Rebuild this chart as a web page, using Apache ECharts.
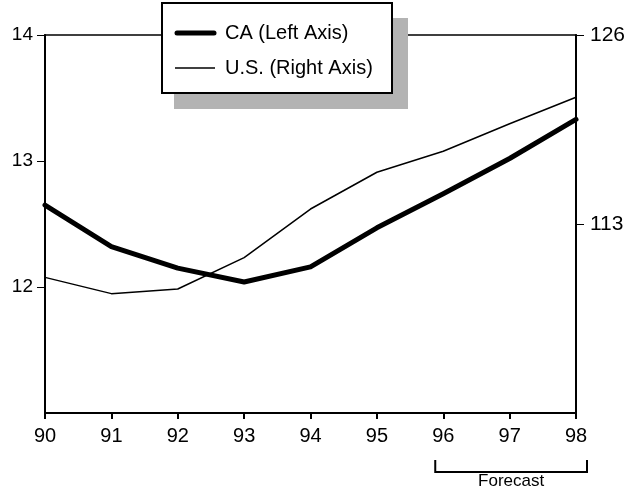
<!DOCTYPE html>
<html>
<head>
<meta charset="utf-8">
<script src="https://cdn.jsdelivr.net/npm/echarts@6/dist/echarts.min.js"></script>
<style>
  html, body { margin: 0; padding: 0; background: #fff; }
  #chart { width: 629px; height: 494px; }
</style>
</head>
<body>
<div id="chart"></div>
<script>
// Years on the horizontal axis (two-digit)
const years = ['90', '91', '92', '93', '94', '95', '96', '97', '98'];
// California (left axis)
const caValues = [12.65, 12.32, 12.15, 12.04, 12.16, 12.47, 12.74, 13.02, 13.33];
// United States (right axis)
const usValues = [109.33, 108.21, 108.53, 110.69, 114.03, 116.56, 118.0, 119.9, 121.72];
const seriesNames = ['CA (Left Axis)', 'U.S. (Right Axis)'];
const leftTicks = [12, 13, 14];
const rightTicks = [113, 126];
const forecastYears = ['96', '98'];
const forecastLabel = 'Forecast';

const FONT = '"Liberation Sans", Arial, Helvetica, sans-serif';
const chart = echarts.init(document.getElementById('chart'), null, { renderer: 'canvas' });

chart.setOption({
  animation: false,
  backgroundColor: '#fff',
  grid: {
    left: 45, right: 53, top: 35, bottom: 81,
    show: true, borderColor: '#000', borderWidth: 1.5, backgroundColor: 'transparent'
  },
  xAxis: {
    type: 'category',
    data: years,
    boundaryGap: false,
    axisLine: { lineStyle: { color: '#000', width: 2 } },
    axisTick: { alignWithLabel: true, length: 6, lineStyle: { color: '#000', width: 2 } },
    axisLabel: { color: '#000', fontSize: 20, fontFamily: FONT, margin: 13 },
    splitLine: { show: false }
  },
  yAxis: [
    {
      type: 'value', position: 'left', min: 11, max: 14, interval: 1,
      axisLine: { show: true, lineStyle: { color: '#000', width: 2 } },
      axisTick: { show: true, length: 8, customValues: leftTicks, lineStyle: { color: '#000', width: 1 } },
      axisLabel: { customValues: leftTicks, color: '#000', fontSize: 19, fontFamily: FONT, margin: 12 },
      splitLine: { show: false }
    },
    {
      type: 'value', position: 'right', min: 100, max: 126, interval: 13,
      axisLine: { show: true, lineStyle: { color: '#000', width: 2 } },
      axisTick: { show: true, length: 8, customValues: rightTicks, lineStyle: { color: '#000', width: 1 } },
      axisLabel: { customValues: rightTicks, color: '#000', fontSize: 21, fontFamily: FONT, margin: 14 },
      splitLine: { show: false }
    }
  ],
  series: [
    {
      name: seriesNames[0], type: 'line', yAxisIndex: 0, data: caValues,
      symbol: 'none', z: 3,
      lineStyle: { color: '#000', width: 5, join: 'round', cap: 'round' }
    },
    {
      name: seriesNames[1], type: 'line', yAxisIndex: 1, data: usValues,
      symbol: 'none', z: 2,
      lineStyle: { color: '#000', width: 1.5 }
    }
  ]
});

// Legend box with drop shadow, and the forecast bracket under the x axis
const xStart = chart.convertToPixel({ xAxisIndex: 0 }, forecastYears[0]);
const xEnd = chart.convertToPixel({ xAxisIndex: 0 }, forecastYears[1]);
const bx0 = xStart - 8, bx1 = xEnd + 11;

chart.setOption({
  graphic: [
    { type: 'rect', z: 50, shape: { x: 174, y: 18, width: 234, height: 91 }, style: { fill: '#b3b3b3' } },
    { type: 'rect', z: 51, shape: { x: 162, y: 3, width: 230, height: 90 }, style: { fill: '#fff', stroke: '#000', lineWidth: 2 } },
    { type: 'line', z: 52, shape: { x1: 177, y1: 33, x2: 214, y2: 33 }, style: { stroke: '#000', lineWidth: 5, lineCap: 'round' } },
    { type: 'text', z: 52, x: 225, y: 33, style: { text: seriesNames[0], fill: '#000', font: '20px ' + FONT, verticalAlign: 'middle', align: 'left' } },
    { type: 'line', z: 52, shape: { x1: 175, y1: 68, x2: 215, y2: 68 }, style: { stroke: '#000', lineWidth: 1.5 } },
    { type: 'text', z: 52, x: 225, y: 68, style: { text: seriesNames[1], fill: '#000', font: '20px ' + FONT, verticalAlign: 'middle', align: 'left' } },
    { type: 'polyline', z: 52, shape: { points: [[bx0, 460], [bx0, 472], [bx1, 472], [bx1, 460]] }, style: { stroke: '#000', lineWidth: 2, fill: null } },
    { type: 'text', z: 52, x: (bx0 + bx1) / 2, y: 481, style: { text: forecastLabel, fill: '#000', font: '17px ' + FONT, verticalAlign: 'middle', align: 'center' } }
  ]
});
</script>
</body>
</html>
